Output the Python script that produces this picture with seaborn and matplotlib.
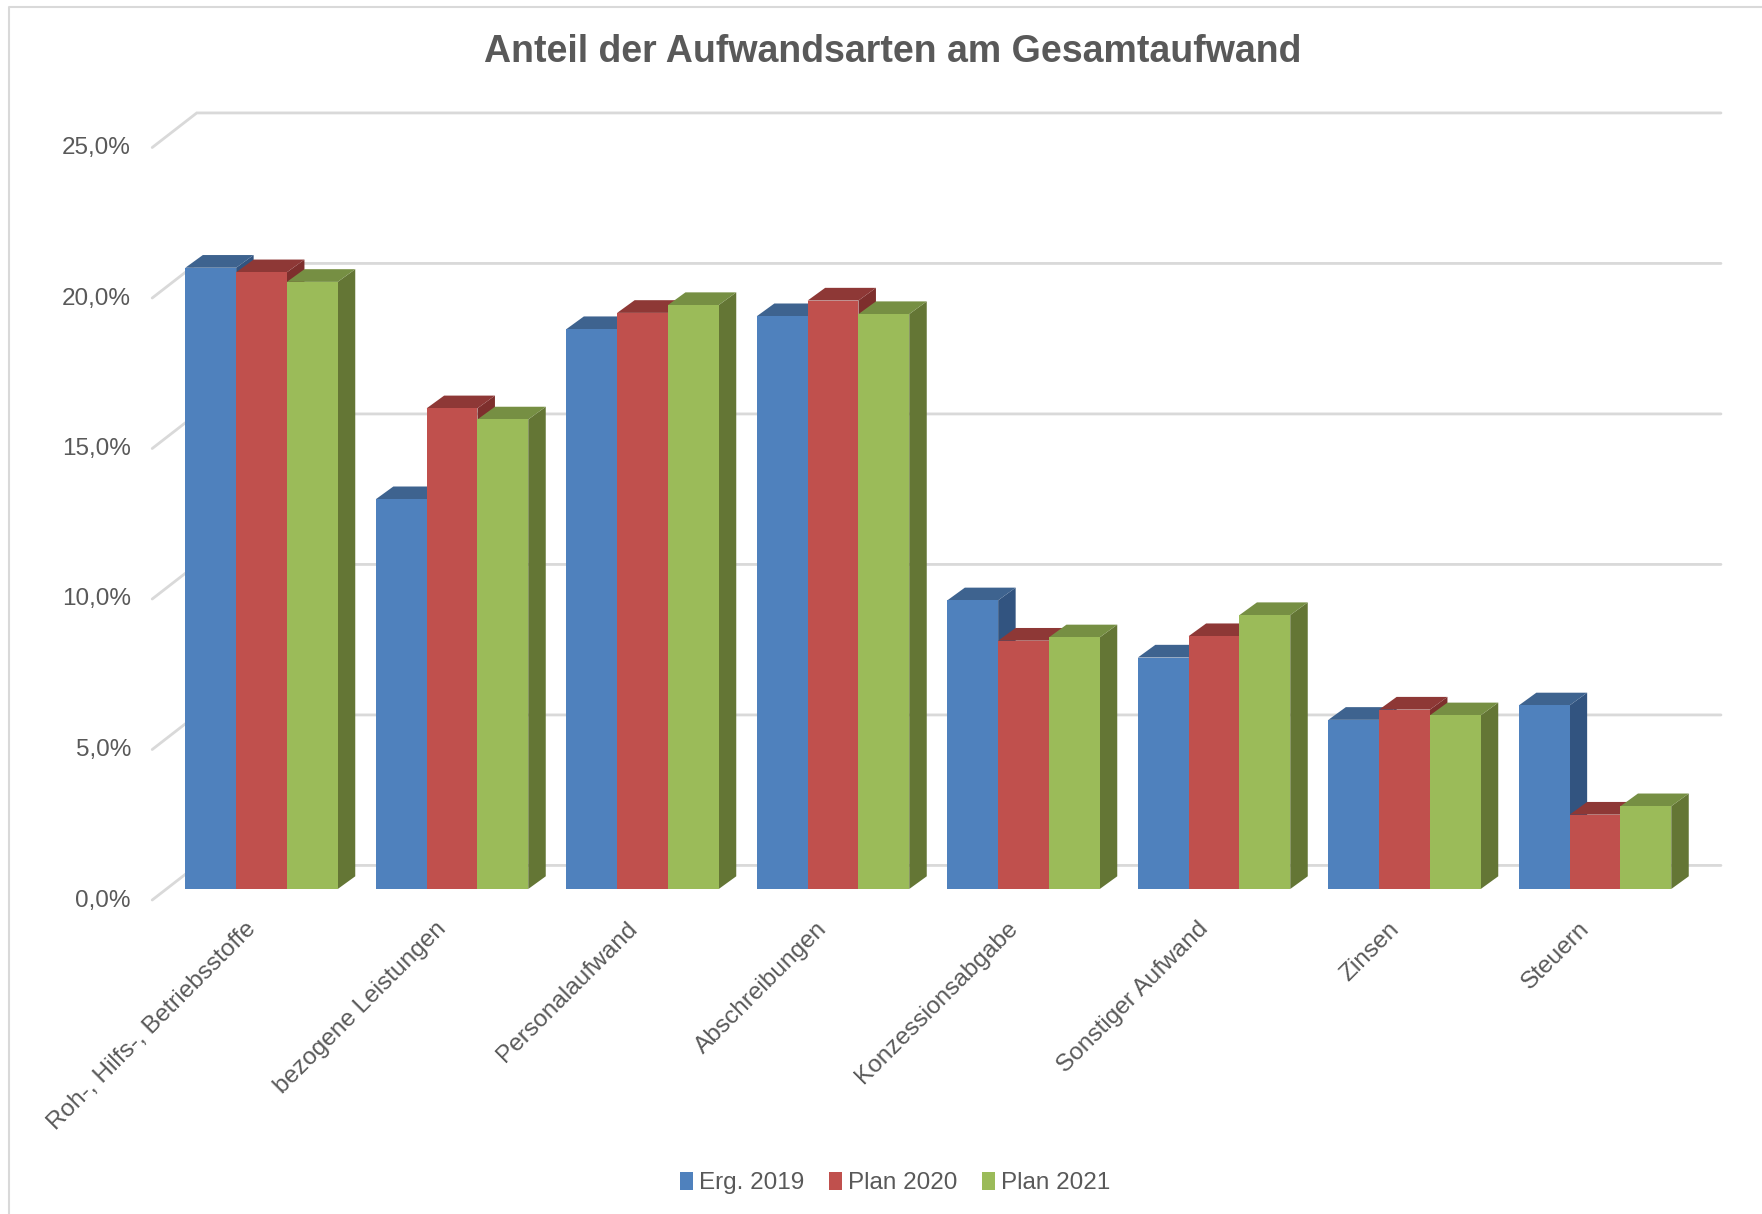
import matplotlib
matplotlib.use("Agg")
import matplotlib.pyplot as plt
import pandas as pd
import seaborn as sns
from matplotlib.lines import Line2D
from matplotlib.patches import Polygon
from matplotlib.transforms import ScaledTranslation

categories = ["Roh-, Hilfs-, Betriebsstoffe", "bezogene Leistungen", "Personalaufwand", "Abschreibungen",
              "Konzessionsabgabe", "Sonstiger Aufwand", "Zinsen", "Steuern"]
erg_2019 = [20.64, 12.95, 18.6, 19.03, 9.59, 7.69, 5.62, 6.10]
plan_2020 = [20.49, 15.97, 19.14, 19.55, 8.25, 8.4, 5.96, 2.47]
plan_2021 = [20.17, 15.6, 19.4, 19.1, 8.36, 9.1, 5.77, 2.75]
y_ticks = [0, 5, 10, 15, 20, 25]
y_labels = ["0,0%", "5,0%", "10,0%", "15,0%", "20,0%", "25,0%"]
series = ["Erg. 2019", "Plan 2020", "Plan 2021"]

front = ["#4F81BD", "#C0504D", "#9BBB59"]
top = ["#3E638F", "#8E3836", "#768F43"]
side = ["#325480", "#7E2F2D", "#647635"]
grey = "#595959"
grid = "#D9D9D9"

df = pd.DataFrame({"Art": categories * 3,
                   "Anteil": erg_2019 + plan_2020 + plan_2021,
                   "Reihe": [s for s in series for _ in categories]})

sns.set_style("white")
plt.rcParams["font.family"] = ["Liberation Sans", "DejaVu Sans"]

W, H = 1762, 1214
fig = plt.figure(figsize=(W / 100, H / 100), dpi=100)
ax = fig.add_axes([166.3 / W, (H - 889) / H, 1524 / W, 752.5 / H])

sns.barplot(data=df, x="Art", y="Anteil", hue="Reihe", palette=front, width=0.8, gap=0,
            saturation=1, legend=False, linewidth=0, ax=ax, zorder=50)
ax.set_xlim(-0.5, 7.5)
ax.set_ylim(0, 25)
ax.set_xlabel("")
ax.set_ylabel("")
sns.despine(ax=ax, left=True, bottom=True)

# depth of the fake 3d bars, in data units
dx = 17.5 / 190.5
dy = 12.7 / 30.1

# back wall grid and the diagonal going to the tick labels
for v in y_ticks:
    ax.plot([-0.574, -0.34, 7.661], [v - 0.366, v + 0.783, v + 0.783], color=grid, lw=2,
            clip_on=False, zorder=0, solid_joinstyle="miter")

for i, cont in enumerate(ax.containers):
    for j, bar in enumerate(cont):
        x0 = bar.get_x()
        x1 = x0 + bar.get_width()
        h = bar.get_height()
        z = 10 + j * 3 + i
        ax.add_patch(Polygon([(x1, 0), (x1 + dx, dy), (x1 + dx, h + dy), (x1, h)], fc=side[i], ec="none",
                             clip_on=False, zorder=z))
        ax.add_patch(Polygon([(x0, h), (x0 + dx, h + dy), (x1 + dx, h + dy), (x1, h)], fc=top[i], ec="none",
                             clip_on=False, zorder=z))

ax.set_yticks(y_ticks, y_labels)
ax.tick_params(axis="y", length=0, pad=25.5, labelsize=17.5, labelcolor=grey)
shift = ScaledTranslation(0, -9 / 100, fig.dpi_scale_trans)
for lab in ax.get_yticklabels():
    lab.set_transform(lab.get_transform() + shift)

ax.tick_params(axis="x", length=0, pad=20, labelsize=17.6, labelcolor=grey)
shift_x = ScaledTranslation(-16.8 / 100, -1 / 100, fig.dpi_scale_trans)
for lab in ax.get_xticklabels():
    lab.set_rotation(45)
    lab.set_ha("right")
    lab.set_rotation_mode("anchor")
    lab.set_transform(lab.get_transform() + shift_x)

fig.text(893 / W, 1 - 52.5 / H, "Anteil der Aufwandsarten am Gesamtaufwand", ha="center", va="center",
         fontsize=27, fontweight="bold", color=grey)

handles = [c[0] for c in ax.containers]
fig.legend(handles, series, loc="center", bbox_to_anchor=(895 / W, 1 - 1183 / H), ncol=3, frameon=False,
           fontsize=17.5, labelcolor=grey, handlelength=0.55, handleheight=0.8, handletextpad=0.25,
           columnspacing=1.0, borderpad=0)

# chart frame, only top and left are in the picture
fig.add_artist(Line2D([9 / W, 9 / W, 1], [0, 1 - 7 / H, 1 - 7 / H], color=grid, lw=1.5))

fig.savefig("out.png", dpi=100)
